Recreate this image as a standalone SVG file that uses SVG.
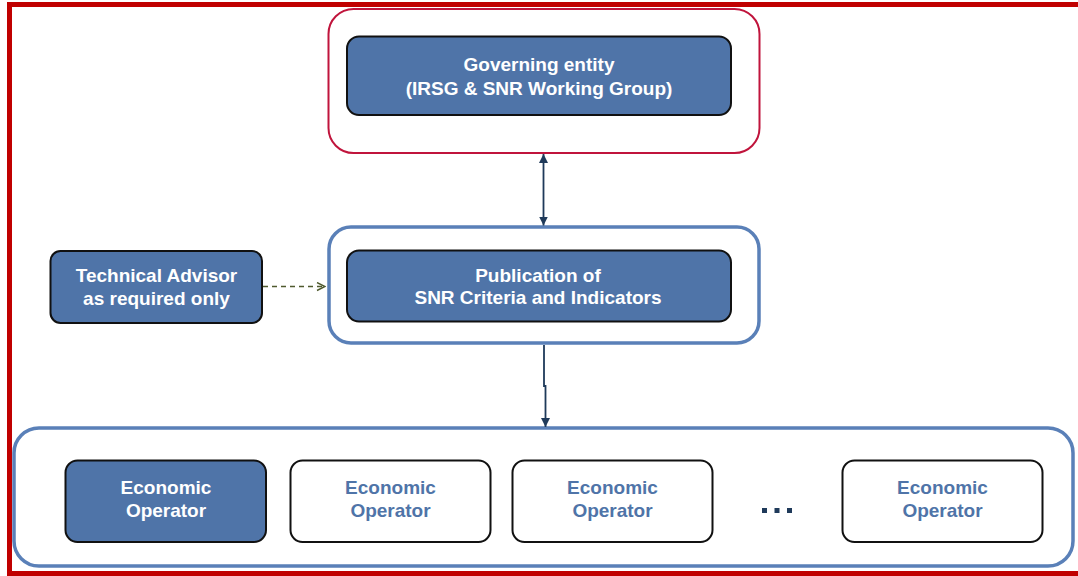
<svg xmlns="http://www.w3.org/2000/svg" width="1078" height="576" viewBox="0 0 1078 576">
<defs>
<style>
.t{font-family:"Liberation Sans",Arial,sans-serif;font-weight:bold;font-size:19px;text-anchor:middle}
.w{fill:#ffffff}
.b{fill:#4F74A8}
.fill{fill:#4F74A8;stroke:#111111;stroke-width:2}
.empty{fill:#ffffff;stroke:#111111;stroke-width:2}
.conn{stroke:#1F3A5A;stroke-width:1.8;fill:none}
</style>
<marker id="ah" viewBox="0 0 10 10" refX="10" refY="5" markerWidth="9" markerHeight="9" markerUnits="userSpaceOnUse" orient="auto-start-reverse">
<path d="M0,0 L10,5 L0,10 z" fill="#1F3A5A"/>
</marker>
<marker id="oa" viewBox="0 0 10 10" refX="9" refY="5" markerWidth="10" markerHeight="10" markerUnits="userSpaceOnUse" orient="auto">
<path d="M1,1 L9,5 L1,9" fill="none" stroke="#4F5A2E" stroke-width="1.4"/>
</marker>
</defs>
<rect x="0" y="0" width="1078" height="576" fill="#ffffff"/>
<rect id="frame" x="9.5" y="4.5" width="1080" height="569" fill="none" stroke="#C00000" stroke-width="5"/>

<g id="governing-container">
<rect x="328.5" y="9" width="431" height="144" rx="25" fill="#ffffff" stroke="#C0143C" stroke-width="2"/>
</g>
<g id="governing">
<rect x="347" y="36.5" width="384" height="78.5" rx="12" class="fill"/>
<text class="t w" x="539" y="71">Governing entity</text>
<text class="t w" x="539" y="95">(IRSG &amp; SNR Working Group)</text>
</g>

<g id="publication-container">
<rect x="329" y="227" width="430" height="116" rx="22" fill="#ffffff" stroke="#5A80B8" stroke-width="3.5"/>
</g>
<g id="publication">
<rect x="347" y="250.5" width="384" height="71" rx="12" class="fill"/>
<text class="t w" x="538" y="281.5">Publication of</text>
<text class="t w" x="538" y="303.5">SNR Criteria and Indicators</text>
</g>

<g id="technical-advisor">
<rect x="50.5" y="251" width="211.5" height="72" rx="10" class="fill"/>
<text class="t w" x="156.5" y="281.5">Technical Advisor</text>
<text class="t w" x="156.5" y="305">as required only</text>
</g>

<g id="operators-container">
<rect x="14" y="428" width="1059" height="138" rx="25" fill="#ffffff" stroke="#5A80B8" stroke-width="3.5"/>
</g>
<g id="eo1">
<rect x="65.5" y="460.5" width="200.5" height="81.5" rx="12" class="fill"/>
<text class="t w" x="166" y="494">Economic</text>
<text class="t w" x="166" y="517">Operator</text>
</g>
<g id="eo2">
<rect x="290.5" y="460.5" width="200" height="81.5" rx="12" class="empty"/>
<text class="t b" x="390.5" y="494">Economic</text>
<text class="t b" x="390.5" y="517">Operator</text>
</g>
<g id="eo3">
<rect x="512.5" y="460.5" width="200" height="81.5" rx="12" class="empty"/>
<text class="t b" x="612.5" y="494">Economic</text>
<text class="t b" x="612.5" y="517">Operator</text>
</g>
<g id="ellipsis">
<rect x="762" y="508" width="5" height="5" fill="#1F3A5A"/>
<rect x="774.5" y="508" width="5" height="5" fill="#1F3A5A"/>
<rect x="787" y="508" width="5" height="5" fill="#1F3A5A"/>
</g>
<g id="eo4">
<rect x="842.5" y="460.5" width="200" height="81.5" rx="12" class="empty"/>
<text class="t b" x="942.5" y="494">Economic</text>
<text class="t b" x="942.5" y="517">Operator</text>
</g>

<g id="connectors">
<line class="conn" x1="543.5" y1="154" x2="543.5" y2="225.5" marker-start="url(#ah)" marker-end="url(#ah)"/>
<polyline class="conn" points="544,345 544,386 545.5,386 545.5,427" marker-end="url(#ah)"/>
<line x1="263" y1="286.5" x2="325" y2="286.5" stroke="#4F5A2E" stroke-width="1.4" stroke-dasharray="5,4" marker-end="url(#oa)"/>
</g>
</svg>
